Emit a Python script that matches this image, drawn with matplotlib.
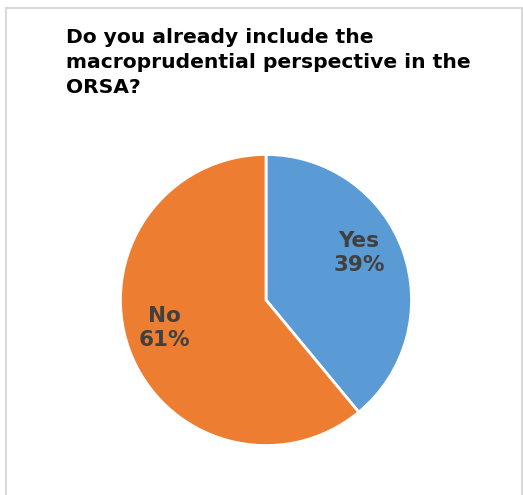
import matplotlib
matplotlib.use("Agg")
import matplotlib.pyplot as plt
from matplotlib.patches import Rectangle

# Survey responses
categories = ["Yes", "No"]
shares = [39, 61]
colors = ["#5B9BD5", "#ED7D31"]
title = "Do you already include the\nmacroprudential perspective in the\nORSA?"

W, H = 523, 495
fig = plt.figure(figsize=(W / 100, H / 100), dpi=100)
fig.patch.set_facecolor("white")

# chart frame
fig.patches.append(Rectangle((5.5 / W, -0.1), (521.5 - 5.5) / W, (H - 7.5) / H + 0.1,
                             transform=fig.transFigure, fill=False,
                             edgecolor="#D9D9D9", linewidth=1.5))

fig.text(66 / W, 1 - 28 / H, title, ha="left", va="top", fontsize=14.6,
         fontweight="bold", color="black", linespacing=1.4,
         family="DejaVu Sans")

cx, cy, r = 266, 300, 147
ax = fig.add_axes([(cx - r) / W, (H - cy - r) / H, 2 * r / W, 2 * r / H])
ax.pie(shares, colors=colors, startangle=90, counterclock=False, radius=1,
       wedgeprops=dict(edgecolor="white", linewidth=2))
ax.set_xlim(-1.01, 1.01)
ax.set_ylim(-1.01, 1.01)
ax.set_aspect("equal")
ax.axis("off")

label_pos = [(0.64, 0.32), (-0.70, -0.19)]
for cat, val, (x, y) in zip(categories, shares, label_pos):
    ax.text(x, y, f"{cat}\n{val}%", ha="center", va="center",
            multialignment="center", fontsize=15.5, fontweight="bold",
            color="#404040", linespacing=1.25, family="DejaVu Sans")

fig.savefig("out.png", dpi=100, facecolor="white")
